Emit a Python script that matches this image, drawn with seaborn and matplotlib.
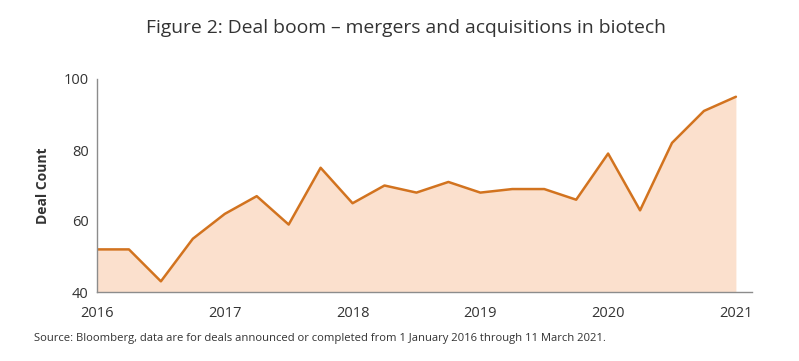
import numpy as np
import pandas as pd
import matplotlib.pyplot as plt
import seaborn as sns

# quarterly deal counts, Q1 2016 .. Q1 2021
quarters = np.arange(2016, 2021.01, 0.25)
deal_count = [52, 52, 43, 55, 62, 67, 59, 75, 65, 70, 68, 71,
              68, 69, 69, 66, 79, 63, 82, 91, 95]
year_ticks = [2016, 2017, 2018, 2019, 2020, 2021]
y_ticks = [40, 60, 80, 100]

title = "Figure 2: Deal boom \u2013 mergers and acquisitions in biotech"
source = ("Source: Bloomberg, data are for deals announced or completed "
          "from 1 January 2016 through 11 March 2021.")

df = pd.DataFrame({"quarter": quarters, "deals": deal_count})

sns.set_theme(style="white")
plt.rcParams['font.family'] = ['Open Sans', 'DejaVu Sans']

line_color = "#D2731F"
fill_color = "#FBE0CD"
text_color = "#333333"

fig = plt.figure(figsize=(7.99, 3.61), dpi=100)
ax = fig.add_axes([97 / 799, 1 - 292 / 361, (752 - 97) / 799, (292 - 79) / 361])

ax.fill_between(df["quarter"], 40, df["deals"], color=fill_color, linewidth=0)
sns.lineplot(data=df, x="quarter", y="deals", ax=ax, color=line_color, linewidth=1.8)

ax.set_xlim(2016, 2021 + 16 / 127)
ax.set_ylim(40, 100)
ax.set_xticks(year_ticks)
ax.set_xticklabels([str(y) for y in year_ticks], fontsize=10.5, color=text_color)
ax.set_yticks(y_ticks)
ax.set_yticklabels([str(v) for v in y_ticks], fontsize=10.5, color=text_color)
ax.tick_params(axis="x", length=0, pad=10)
ax.tick_params(axis="y", length=0, pad=6)
ax.set_xlabel("")
ax.set_ylabel("Deal Count", fontsize=10, fontweight="bold", color=text_color, labelpad=10)

for side in ["top", "right"]:
    ax.spines[side].set_visible(False)
for side in ["left", "bottom"]:
    ax.spines[side].set_color("#8c8c8c")
    ax.spines[side].set_linewidth(1.0)

fig.text(0.5 + 7 / 799, 1 - 28 / 361, title, ha="center", va="center", fontsize=13.9, color=text_color)
fig.text(34 / 799, 1 - 338 / 361, source, ha="left", va="center", fontsize=8.1, color=text_color)

fig.savefig("out.png", dpi=100)
